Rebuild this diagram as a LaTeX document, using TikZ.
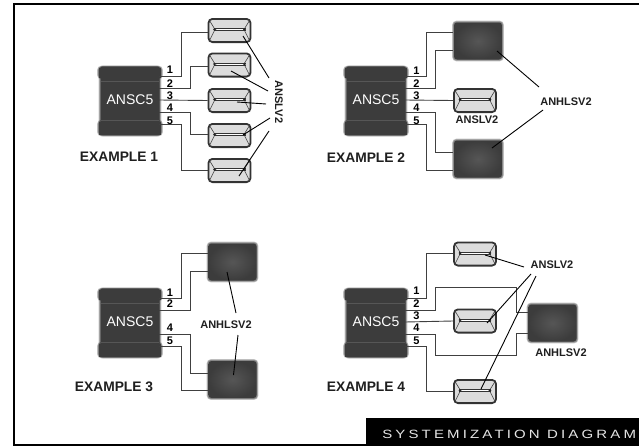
\documentclass[tikz,border=0pt]{standalone}
\usepackage{fontspec}
\setmainfont{Liberation Sans}
\newfontfamily\bannerfont[LetterSpace=21]{Liberation Sans}
\usetikzlibrary{calc}
\definecolor{chipdark}{HTML}{3C3C3C}
\definecolor{chipmid}{HTML}{565656}
\definecolor{slavefill}{HTML}{DCDCDC}
\definecolor{wirec}{HTML}{404040}
\tikzset{
  x=1pt,y=-1pt,
  wire/.style={draw=wirec,line width=0.9pt},
  leader/.style={draw=black,line width=0.9pt},
  chiptext/.style={text=white,font=\fontsize{14}{14}\selectfont,inner sep=0pt},
  extext/.style={font=\bfseries\fontsize{13.8}{14}\selectfont,inner sep=0pt,text=black!88},
  partlabel/.style={font=\bfseries\fontsize{11}{11}\selectfont,inner sep=0pt,text=black!88},
  pinlabel/.style={font=\bfseries\fontsize{11}{11}\selectfont,inner sep=0pt,text=black},
  slavebox/.style={draw=black!80,line width=1.8pt,fill=slavefill,rounded corners=4pt,minimum width=42pt,minimum height=23.2pt,inner sep=0pt},
  hlbox/.style={rounded corners=3pt,minimum width=48pt,minimum height=37pt,inner sep=0pt},
  chipbox/.style={fill=chipdark,rounded corners=2pt,minimum width=59pt,minimum height=68pt,inner sep=0pt},
  softedge/.style={fill=chipdark,opacity=.3},
}
% soft-edged rectangle: x1,y1,x2,y2
\newcommand{\SoftBox}[4]{%
  \foreach \grow/\rad in {1.8/4,1.2/3.5,.6/3}{%
    \fill[softedge,rounded corners=\rad pt] (#1-\grow,#2-\grow) rectangle (#3+\grow,#4+\grow);
  }%
}
% chip: name, centre x, centre y
\newcommand{\ChipPart}[3]{%
  \SoftBox{#2-29.5}{#3-33}{#2+29.5}{#3+34}
  \node[chipbox] (#1) at (#2,#3) {};
  \SoftBox{#2-31}{#3-33}{#2+31}{#3-23}
  \SoftBox{#2-31}{#3+21}{#2+31}{#3+34}
  \fill[chipdark] (#2-31,#3-33) rectangle (#2+31,#3-23);
  \fill[chipdark] (#2-31,#3+21) rectangle (#2+31,#3+34);
  \draw[chipmid,line width=.8pt] (#2-29,#3-19) -- (#2+29,#3-19);
  \draw[chipmid,line width=.8pt] (#2-29,#3+20) -- (#2+29,#3+20);
  \node[chiptext] at (#2,#3-1) {ANSC5};
  \coordinate (#1-1) at (#2+29,#3-24.5);
  \coordinate (#1-2) at (#2+29,#3-12.5);
  \coordinate (#1-3) at (#2+29,#3-0.5);
  \coordinate (#1-4) at (#2+29,#3+11.5);
  \coordinate (#1-5) at (#2+29,#3+23.5);
}
% slave: name, centre x, centre y
\newcommand{\SlavePart}[3]{%
  \node[slavebox] (#1) at (#2,#3) {};
  \draw[black!75,line width=.6pt] (#2-20,#3-10) -- (#2-14.5,#3-1) -- (#2-20,#3+10);
  \draw[black!75,line width=.6pt] (#2+20,#3-10) -- (#2+14.5,#3-1) -- (#2+20,#3+10);
  \draw[black!80,line width=.6pt] (#2-16,#3-2.2) -- (#2+16,#3-2.2);
  \draw[white,line width=1pt] (#2-13,#3-1) -- (#2+13,#3-1);
  \draw[black!80,line width=.6pt] (#2-16,#3+.2) -- (#2+16,#3+.2);
  \fill[black!85] (#2-15,#3-1) circle (1.3pt) (#2+15,#3-1) circle (1.3pt);
}
% high-power part: name, centre x, centre y, offset upper pin, offset lower pin
\newcommand{\HighPart}[5]{%
  \SoftBox{#2-24}{#3-18.5}{#2+24}{#3+18.5}
  \node[hlbox,inner color=chipmid,outer color=chipdark] (#1) at (#2,#3) {};
  \coordinate (#1-a) at (#2-25,#3+#4);
  \coordinate (#1-b) at (#2-25,#3+#5);
}
\begin{document}
\begin{tikzpicture}
\useasboundingbox (0,0) rectangle (639,447);
\fill[white] (0,0) rectangle (639,447);
\draw[black,line width=2pt] (639,3.5) -- (13.5,3.5) -- (13.5,444.5) -- (639,444.5);
\fill[black] (366,418) rectangle (639,445.5);
\node[name=banner,anchor=west,inner sep=0pt,text=white!90!black,xscale=1.25,transform shape] at (382,434) {\bannerfont\fontsize{12}{12}\selectfont SYSTEMIZATION DIAGRAM};

% ---- Example 1
\ChipPart{a}{130}{100.5}
\SlavePart{as1}{229.5}{30.5}
\SlavePart{as2}{229.5}{65}
\SlavePart{as3}{229.5}{100.5}
\SlavePart{as4}{229.5}{135.5}
\SlavePart{as5}{229.5}{170.5}
\draw[wire] (a-1) -- ++(22,0) |- ($(as1.west)+(0,1.5)$);
\draw[wire] (a-2) -- ++(31,0) |- ($(as2.west)+(0,1)$);
\draw[wire] (a-3) -- (as3.west);
\draw[wire] (a-4) -- ++(31,0) |- ($(as4.west)+(0,-1.5)$);
\draw[wire] (a-5) -- ++(22,0) |- ($(as5.west)+(0,-.5)$);
\node[pinlabel] at (170,70) {1};
\node[pinlabel] at (170,84) {2};
\node[pinlabel] at (170,95.5) {3};
\node[pinlabel] at (170,108) {4};
\node[pinlabel] at (170,120.5) {5};
\node[extext] (ax) at (119,157) {EXAMPLE 1};
\node[partlabel,rotate=-90] (al) at (279,102) {ANSLV2};
\coordinate (al1) at (269,78);
\coordinate (al2) at (268,91);
\coordinate (al3) at (266,104);
\coordinate (al4) at (270,118);
\coordinate (al5) at (269,131);
\draw[leader] (al1) -- ($(as1)+(13.5,5.5)$);
\draw[leader] (al2) -- ($(as2)+(1.5,6)$);
\draw[leader] (al3) -- ($(as3)+(7.5,1.5)$);
\draw[leader] (al4) -- ($(as4)+(13.5,-.5)$);
\draw[leader] (al5) -- ($(as5)+(9.5,5.5)$);

% ---- Example 2
\ChipPart{b}{376}{100.5}
\HighPart{bh1}{478}{41}{-9}{9}
\SlavePart{bs}{475}{100.5}
\HighPart{bh2}{478}{159}{-7}{11}
\draw[wire] (b-1) -- ++(21,0) |- (bh1-a);
\draw[wire] (b-2) -- ++(30,0) |- (bh1-b);
\draw[wire] (b-3) -- (bs.west);
\draw[wire] (b-4) -- ++(30,0) |- (bh2-a);
\draw[wire] (b-5) -- ++(21,0) |- (bh2-b);
\node[pinlabel] at (416.5,71) {1};
\node[pinlabel] at (416.5,83.5) {2};
\node[pinlabel] at (416.5,95.5) {3};
\node[pinlabel] at (416.5,108) {4};
\node[pinlabel] at (416.5,120.5) {5};
\node[partlabel] (bl1) at (477,120) {ANSLV2};
\node[partlabel] (bl2) at (566,102) {ANHLSV2};
\node[extext] (bx) at (366,158) {EXAMPLE 2};
\draw[leader] ($(bl2)+(-27,-15)$) -- ($(bh1)+(19,10)$);
\draw[leader] ($(bl2)+(-23,8)$) -- ($(bh2)+(14,-11)$);

% ---- Example 3
\ChipPart{c}{130}{322.5}
\HighPart{ch1}{232.5}{262}{-9}{9.5}
\HighPart{ch2}{232.5}{379.5}{-6.5}{10.5}
\draw[wire] (c-1) -- ++(22,0) |- (ch1-a);
\draw[wire] (c-2) -- ++(31,0) |- (ch1-b);
\draw[wire] (c-4) -- ++(31,0) |- (ch2-a);
\draw[wire] (c-5) -- ++(22,0) |- (ch2-b);
\node[pinlabel] at (170,293) {1};
\node[pinlabel] at (170,303.5) {2};
\node[pinlabel] at (170,327.5) {4};
\node[pinlabel] at (170,341) {5};
\node[partlabel] (cl) at (226,325) {ANHLSV2};
\node[extext] (cx) at (114,387) {EXAMPLE 3};
\draw[leader] ($(cl)+(10,-12)$) -- ($(ch1)+(-5.5,10)$);
\draw[leader] ($(cl)+(12,10)$) -- ($(ch2)+(1,-4.5)$);

% ---- Example 4
\ChipPart{d}{376}{322.5}
\SlavePart{ds1}{475}{254}
\SlavePart{ds2}{475}{321}
\SlavePart{ds3}{475}{391.5}
\HighPart{dh}{552.5}{323}{-11}{10}
\draw[wire] (d-1) -- ++(21,0) |- ($(ds1.west)+(0,-1)$);
\draw[wire] (d-2) -- ++(30,0) |- ($(dh-a)+(-11,-25)$) |- (dh-a);
\draw[wire] (d-3) -- (ds2.west);
\draw[wire] (d-4) -- ++(30,0) |- ($(dh-b)+(-11,22)$) |- (dh-b);
\draw[wire] (d-5) -- ++(21,0) |- (ds3.west);
\node[pinlabel] at (416.5,291) {1};
\node[pinlabel] at (416.5,303.5) {2};
\node[pinlabel] at (416.5,315.5) {3};
\node[pinlabel] at (416.5,327.5) {4};
\node[pinlabel] at (416.5,341) {5};
\node[partlabel] (dl1) at (552,265) {ANSLV2};
\node[partlabel] (dl2) at (561,353) {ANHLSV2};
\node[extext] (dx) at (366,387) {EXAMPLE 4};
\draw[leader] ($(dl1)+(-28,2)$) -- ($(ds1)+(10,1)$);
\draw[leader] ($(dl1)+(-21,9)$) -- ($(ds2)+(12,2)$);
\draw[leader] ($(dl1)+(-16,11)$) -- ($(ds3)+(6,-2.5)$);
\end{tikzpicture}
\end{document}
